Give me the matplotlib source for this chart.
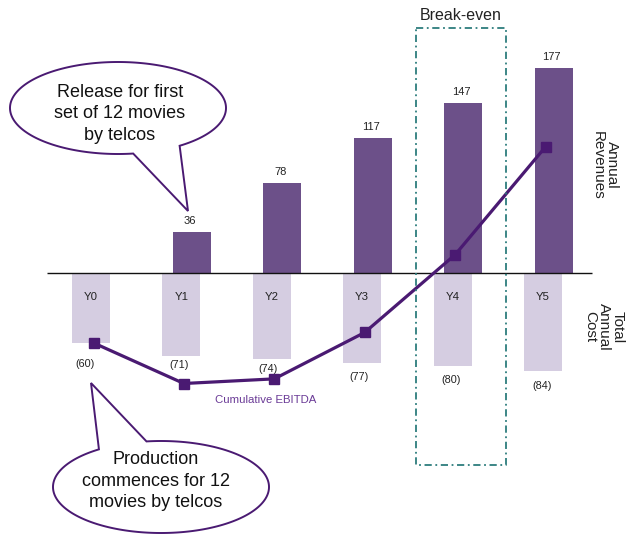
import numpy as np
import matplotlib
matplotlib.use("Agg")
import matplotlib.pyplot as plt
from matplotlib.patches import Polygon

# ---------------- data ----------------
years = ["Y0", "Y1", "Y2", "Y3", "Y4", "Y5"]
revenue = [0, 36, 78, 117, 147, 177]          # annual revenues (Y0 has none)
cost = [60, 71, 74, 77, 80, 84]               # total annual cost
ebitda = [-60, -95, -91, -51, 16, 109]        # cumulative EBITDA

callout_top = "Release for first\nset of 12 movies\nby telcos"
callout_bottom = "Production\ncommences for 12\nmovies by telcos"

# ---------------- style ----------------
plt.rcParams["font.family"] = ["Liberation Sans", "DejaVu Sans"]
REV_C = "#6C5089"
COST_C = "#D5CDE1"
LINE_C = "#4A1A72"
BOX_C = "#2D7D7D"
TXT_C = "#222222"

W, H = 634, 534
fig = plt.figure(figsize=(W / 100, H / 100), dpi=100)

# pixel geometry of the plot
X0, DX = 91.0, 90.4         # px of Y0 cost-bar centre, px per year
BASE, SY = 273.3, 1.16      # px of zero line, px per unit
ax = fig.add_axes([0, 0, 1, 1])
ax.set_xlim((0 - X0) / DX, (W - X0) / DX)
ax.set_ylim(-(H - BASE) / SY, BASE / SY)
ax.axis("off")

x = np.arange(len(years))
bw = 38 / DX
rev_shift = 10.5 / DX
px = 1 / SY  # one pixel in data units (y)

# cost bars (downwards)
ax.bar(x, [-c for c in cost], width=bw, color=COST_C, zorder=2)
# revenue bars (upwards), skip zero
rx = [xi + rev_shift for xi, r in zip(x, revenue) if r > 0]
rv = [r for r in revenue if r > 0]
ax.bar(rx, rv, width=bw, color=REV_C, zorder=2)

# zero line
ax.hlines(0, (47 - X0) / DX, (592 - X0) / DX, color="#111111", lw=1.0, zorder=3)

# revenue labels
for xi, r in zip(rx, rv):
    ax.text(xi - 2 / DX, r + 11 * px, str(r), ha="center", va="center",
            fontsize=8, color=TXT_C, zorder=5)

# year labels inside cost bars
for xi, y in zip(x, years):
    ax.text(xi, -20.5, y, ha="center", va="center", fontsize=8.2, color=TXT_C, zorder=5)

# cost labels
gaps = [21, 9, 10, 14, 14, 15]
xoffs = [-6, -2, -4, -3, -2, -1]
for xi, c, g, o in zip(x, cost, gaps, xoffs):
    ax.text(xi + o / DX, -c - g * px, f"({c})", ha="center", va="center",
            fontsize=7.8, color=TXT_C, zorder=5)

# cumulative EBITDA line
ax.plot(x + 2.5 / DX, ebitda, color=LINE_C, lw=2.3, marker="s", ms=7,
        zorder=6, solid_capstyle="butt")

# ---------------- overlay in pixel coords ----------------
ov = fig.add_axes([0, 0, 1, 1])
ov.set_xlim(0, W)
ov.set_ylim(H, 0)
ov.axis("off")
ov.patch.set_alpha(0)

ov.text(266, 400, "Cumulative EBITDA", ha="center", va="center", fontsize=8.2,
        color="#6A3A96")

# break-even box
ov.plot([416, 506, 506, 416, 416], [28, 28, 465, 465, 28], color=BOX_C, lw=1.3,
        ls=(0, (4, 2, 1, 2)))
ov.text(461, 15, "Break-even", ha="center", va="center", fontsize=11.5, color=TXT_C)

# side labels
ov.text(605, 165, "Annual\nRevenues", rotation=270, ha="center", va="center",
        fontsize=11, linespacing=1.0, color=TXT_C, multialignment="center")
ov.text(604, 327, "Total\nAnnual\nCost", rotation=270, ha="center", va="center",
        fontsize=11, linespacing=1.0, color=TXT_C, multialignment="center")


def callout(cx, cy, a, b, p1, p2, tip, text, tx, ty):
    t1 = np.arctan2((p1[1] - cy) / b, (p1[0] - cx) / a) % (2 * np.pi)
    t2 = np.arctan2((p2[1] - cy) / b, (p2[0] - cx) / a) % (2 * np.pi)
    lo, hi = min(t1, t2), max(t1, t2)
    if hi - lo < np.pi:
        ts = np.linspace(hi, lo + 2 * np.pi, 400)   # long way round
    else:
        ts = np.linspace(lo, hi, 400)
    pts = [(cx + a * np.cos(t), cy + b * np.sin(t)) for t in ts]
    pts.append(tip)
    poly = Polygon(pts, closed=True, facecolor="white", edgecolor=LINE_C,
                   lw=1.4, joinstyle="miter", zorder=10)
    ov.add_patch(poly)
    ov.text(tx, ty, text, ha="center", va="center", fontsize=13,
            color="#111111", linespacing=1.32, zorder=11)


callout(118, 108, 108, 46, (133, 153), (180, 146), (188, 211),
        callout_top, 120, 114)
callout(161, 487, 108, 46, (147, 443), (100, 450), (91, 383),
        callout_bottom, 156, 481)

fig.savefig("out.png", dpi=100)
